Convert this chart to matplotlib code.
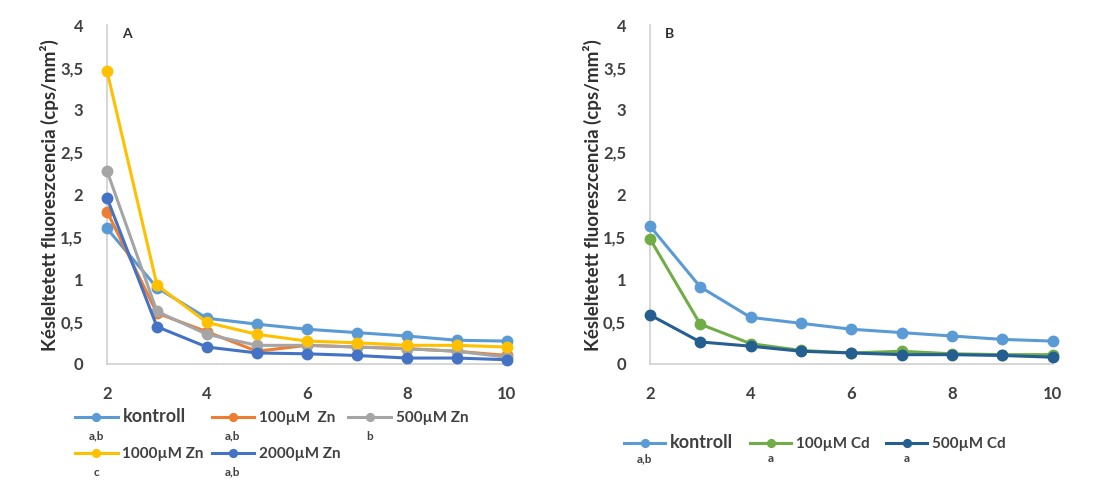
import matplotlib
matplotlib.use("Agg")
import matplotlib.pyplot as plt
from matplotlib.ticker import FuncFormatter

plt.rcParams['font.family'] = ['Lato', 'DejaVu Sans']

# idő (s)
x = [2, 3, 4, 5, 6, 7, 8, 9, 10]

# A panel - Zn kezelések
zn_kontroll = [1.60, 0.90, 0.54, 0.47, 0.41, 0.37, 0.33, 0.28, 0.27]
zn_100 = [1.80, 0.60, 0.38, 0.15, 0.22, 0.20, 0.18, 0.15, 0.10]
zn_500 = [2.28, 0.62, 0.35, 0.22, 0.22, 0.20, 0.18, 0.15, 0.08]
zn_1000 = [3.46, 0.93, 0.49, 0.35, 0.27, 0.25, 0.22, 0.22, 0.20]
zn_2000 = [1.96, 0.44, 0.20, 0.13, 0.12, 0.10, 0.07, 0.07, 0.05]

# B panel - Cd kezelések
cd_kontroll = [1.63, 0.91, 0.55, 0.48, 0.41, 0.37, 0.33, 0.29, 0.27]
cd_100 = [1.48, 0.47, 0.24, 0.16, 0.13, 0.15, 0.12, 0.11, 0.11]
cd_500 = [0.58, 0.26, 0.21, 0.15, 0.13, 0.11, 0.11, 0.10, 0.08]

zn_series = [
    ('kontroll', zn_kontroll, '#5B9BD5', 'a,b'),
    ('100µM  Zn', zn_100, '#ED7D31', 'a,b'),
    ('500µM Zn', zn_500, '#A5A5A5', 'b'),
    ('1000µM Zn', zn_1000, '#FFC000', 'c'),
    ('2000µM Zn', zn_2000, '#4472C4', 'a,b'),
]
cd_series = [
    ('kontroll', cd_kontroll, '#5B9BD5', 'a,b'),
    ('100µM Cd', cd_100, '#70AD47', 'a'),
    ('500µM Cd', cd_500, '#255E91', 'a'),
]

ylabel = 'Késleltetett fluoreszcencia (cps/mm²)'
txt_color = '#404040'


def style_axis(ax, letter):
    ax.set_xlim(2, 10)
    ax.set_ylim(0, 4)
    ax.set_xticks([2, 4, 6, 8, 10])
    ax.set_yticks([0, 0.5, 1, 1.5, 2, 2.5, 3, 3.5, 4])
    ax.yaxis.set_major_formatter(FuncFormatter(lambda v, p: f'{v:g}'.replace('.', ',')))
    for s in ['top', 'right']:
        ax.spines[s].set_visible(False)
    for s in ['left', 'bottom']:
        ax.spines[s].set_color('#D0D0D0')
        ax.spines[s].set_linewidth(1.2)
    ax.tick_params(axis='y', length=0, pad=17, labelsize=12, colors=txt_color)
    ax.tick_params(axis='x', length=0, pad=16, labelsize=12, colors=txt_color)
    for lab in ax.get_xticklabels() + ax.get_yticklabels():
        lab.set_fontweight('bold')
    ax.set_ylabel(ylabel, fontsize=13.5, fontweight='bold', color='#303030', labelpad=1)
    ax.text(0.05, 0.975, letter, transform=ax.transAxes, fontsize=10,
            fontweight='bold', color='#303030', va='center', ha='center')


def draw_series(ax, series):
    lines = []
    for name, vals, color, _ in series:
        ln, = ax.plot(x, vals, '-o', color=color, lw=2.2, ms=7.5, label=name,
                      clip_on=False, zorder=3)
        lines.append(ln)
    return lines


fig = plt.figure(figsize=(10.94, 4.84), dpi=100)
axA = fig.add_axes([0.0978, 0.248, 0.3656, 0.70])
axB = fig.add_axes([0.594, 0.248, 0.3684, 0.70])

linesA = draw_series(axA, zn_series)
linesB = draw_series(axB, cd_series)
style_axis(axA, 'A')
style_axis(axB, 'B')

# A legend: két sor, oszlopfolytonos sorrend miatt átrendezve
orderA = [0, 3, 1, 4, 2]
legA = fig.legend([linesA[i] for i in orderA], [zn_series[i][0] for i in orderA],
                  ncol=3, loc='center left', bbox_to_anchor=(0.056, 0.102),
                  frameon=False, handlelength=2.8, handletextpad=0.3,
                  columnspacing=0.5, labelspacing=1.45, fontsize=11,
                  markerscale=0.75)
legB = fig.legend(linesB, [s[0] for s in cd_series], ncol=3, loc='center left',
                  bbox_to_anchor=(0.558, 0.085), frameon=False, handlelength=2.7,
                  handletextpad=0.3, columnspacing=1.1, fontsize=11,
                  markerscale=0.75)

for leg in (legA, legB):
    for t in leg.get_texts():
        t.set_fontweight('bold')
        t.set_color(txt_color)
        if t.get_text() == 'kontroll':
            t.set_fontsize(13)

# szignifikancia betűk a jelmagyarázat jelei alatt
fig.canvas.draw()
inv = fig.transFigure.inverted()
for leg, series, order, dy in ((legA, zn_series, orderA, 0.040), (legB, cd_series, [0, 1, 2], 0.033)):
    for h, i in zip(leg.legend_handles, order):
        bb = h.get_window_extent(fig.canvas.get_renderer())
        cx = (bb.x0 + bb.x1) / 2
        (fx, fy) = inv.transform((cx, (bb.y0 + bb.y1) / 2))
        fig.text(fx, fy - dy, series[i][3], ha='center', va='center',
                 fontsize=8.5, fontweight='bold', color=txt_color)

fig.savefig('out.png', dpi=100)
